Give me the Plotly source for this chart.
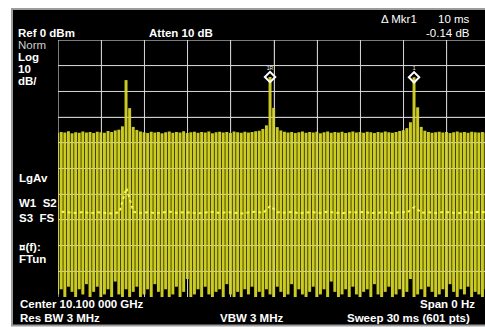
import plotly.graph_objects as go

W, H = 485, 327

# ---- data read from the screen -------------------------------------------
# trace 1 (sample trace), one bar per 0.25 ms bucket of the 30 ms sweep
sweep_ms = [round(-0.025 + 0.25 * k, 3) for k in range(121)]
top_db = [
    -36.2, -35.8, -36.0, -35.5, -36.3, -35.9, -36.1, -35.6, -36.0, -35.8,
    -36.2, -35.7, -35.9, -36.1, -35.4, -35.8, -35.2, -34.9, -33.6, -15.6,
    -26.5, -33.8, -35.0, -35.6, -35.9, -36.2, -35.7, -36.0, -35.8, -36.3,
    -35.9, -35.6, -36.1, -35.8, -36.0, -35.5, -36.2, -35.9, -35.7, -36.1,
    -35.8, -36.0, -35.6, -36.3, -35.9, -35.7, -36.0, -35.8, -36.2, -35.6,
    -35.9, -36.1, -35.7, -36.0, -35.8, -35.5, -35.3, -34.6, -33.2, -14.4,
    -26.4, -33.9, -35.2, -35.7, -36.0, -35.8, -36.2, -35.9, -35.6, -36.1,
    -35.8, -36.0, -35.7, -36.3, -35.9, -35.6, -36.1, -35.8, -36.0, -35.7,
    -36.2, -35.9, -35.6, -36.0, -35.8, -36.1, -35.7, -35.9, -36.2, -35.8,
    -36.0, -35.6, -35.9, -36.1, -35.8, -35.4, -35.1, -34.3, -32.0, -14.5,
    -26.2, -33.8, -35.3, -35.8, -36.1, -35.9, -35.7, -36.0, -35.8, -36.2,
    -35.9, -35.6, -36.0, -35.8, -36.1, -35.7, -35.9, -36.0, -35.8, -36.1,
    -35.9,
]
floor_db = [
    -99, -97, -100, -96, -98, -100, -97, -99, -95, -100,
    -98, -96, -100, -99, -97, -100, -94, -99, -100, -97,
    -100, -98, -96, -100, -99, -97, -100, -95, -98, -100,
    -97, -100, -99, -96, -100, -98, -93, -100, -99, -97,
    -100, -96, -99, -100, -98, -97, -100, -95, -99, -100,
    -98, -100, -97, -99, -96, -100, -98, -100, -97, -99,
    -100, -96, -98, -100, -99, -95, -100, -97, -99, -100,
    -98, -96, -100, -99, -97, -100, -94, -98, -100, -99,
    -97, -100, -96, -99, -100, -98, -97, -100, -95, -99,
    -100, -98, -96, -100, -99, -97, -100, -98, -93, -100,
    -99, -97, -100, -96, -98, -100, -99, -97, -100, -95,
    -98, -100, -97, -99, -96, -100, -98, -99, -100, -97,
    -99,
]
# trace 2 (log average), dotted
avg_ms = [round(0.25 + 0.5 * k, 2) for k in range(60)]
avg_db = [
    -66.8, -67.1, -67.3, -66.9, -67.4, -67.0, -67.2, -67.5, -67.1, -57.6,
    -66.9, -67.3, -67.0, -67.4, -67.1, -66.8, -67.3, -67.0, -67.2, -67.4,
    -67.1, -66.9, -67.3, -67.0, -67.2, -67.5, -67.1, -66.8, -67.3, -64.5,
    -67.0, -67.2, -66.9, -67.4, -67.1, -67.0, -67.3, -66.8, -67.2, -67.4,
    -67.0, -67.1, -66.9, -67.3, -67.2, -67.0, -67.4, -66.9, -67.1, -65.0,
    -67.2, -67.0, -67.3, -66.9, -67.1, -67.4, -67.0, -67.2, -66.8, -67.1,
]
# markers
mkr_ms = [14.725, 24.725]
mkr_db = [-14.4, -14.5]
mkr_labels = ["1R", "1"]

# ---- screen geometry (pixels) --------------------------------------------
GX0, GY0, GY1 = 58, 40, 297
PX_PER_MS = 14.4
x_max = (W - GX0) / PX_PER_MS

YEL = "#cbcb22"

fig = go.Figure()
fig.add_trace(go.Bar(
    x=sweep_ms,
    y=[t - f for t, f in zip(top_db, floor_db)],
    base=floor_db,
    width=0.205,
    marker=dict(color=YEL, line=dict(width=0)),
    hoverinfo="skip",
))
fig.add_trace(go.Scatter(
    x=avg_ms, y=avg_db, mode="lines",
    line=dict(color="#f6f650", width=2, dash="dot"),
    hoverinfo="skip",
))
fig.add_trace(go.Scatter(
    x=mkr_ms, y=mkr_db, mode="markers+text",
    text=mkr_labels, textposition="top center",
    textfont=dict(color="white", size=5, family="Liberation Sans"),
    marker=dict(symbol="diamond-open", size=8, color="white", line=dict(width=2, color="white")),
    hoverinfo="skip",
))

shapes = []
# white surround of the instrument screen (paper itself is black)
for x0, x1, y0, y1 in [(0, 11, 0, H), (0, W, 0, 8), (0, W, 326, H)]:
    shapes.append(dict(type="rect", xref="paper", yref="paper",
                       x0=x0 / W, x1=x1 / W, y0=1 - y1 / H, y1=1 - y0 / H,
                       fillcolor="white", line=dict(width=0), layer="below"))
# gray bezel lines (left, top, bottom)
for x0, x1, y0, y1 in [(12, 12, 9, 325.5), (11, W, 9, 9), (11, W, 325.5, 325.5)]:
    shapes.append(dict(type="line", xref="paper", yref="paper",
                       x0=x0 / W, x1=x1 / W, y0=1 - y0 / H, y1=1 - y1 / H,
                       line=dict(color="#9c9c9c", width=2), layer="below"))
# grid overlay on top of trace (faint)
for t in range(0, 30, 3):
    shapes.append(dict(type="line", xref="x", yref="y", x0=t, x1=t, y0=-100, y1=0,
                       line=dict(color="rgba(235,235,235,0.35)", width=1), layer="above"))
for d in range(-90, 1, 10):
    shapes.append(dict(type="line", xref="x", yref="y", x0=0, x1=x_max, y0=d, y1=d,
                       line=dict(color="rgba(235,235,235,0.35)", width=1), layer="above"))
# borders
shapes.append(dict(type="line", xref="x", yref="y", x0=0, x1=0, y0=-100, y1=0,
                   line=dict(color="#c4c4c4", width=1), layer="below"))
shapes.append(dict(type="line", xref="x", yref="y", x0=0, x1=x_max, y0=0, y1=0,
                   line=dict(color="#c4c4c4", width=1), layer="below"))

FONT = "Liberation Sans, Arial, sans-serif"
FS = 11.5
annotations = []


def label(text, px, py, anchor="left", color="white", bold=True, size=FS):
    annotations.append(dict(
        text=f"<b>{text}</b>" if bold else text,
        x=px / W, y=1 - py / H, xref="paper", yref="paper",
        xanchor=anchor, yanchor="middle", showarrow=False,
        font=dict(family=FONT, size=size, color=color),
    ))


label("Ref 0 dBm", 16, 33)
label("Atten 10 dB", 147, 33)
label("\u0394 Mkr1", 379, 19, bold=False)
label("10 ms", 472, 19, anchor="right", bold=False)
label("-0.14 dB", 472, 33, anchor="right", bold=False)
label("Norm", 16, 45, bold=False, color="#cfcfcf")
label("Log", 16, 57)
label("10", 16, 69)
label("dB/", 16, 81)
label("LgAv", 17, 178)
label("W1  S2", 17, 203)
label("S3  FS", 17, 218)
label("\u00a4(f):", 17, 247)
label("FTun", 17, 259)
label("Center 10.100 000 GHz", 18, 304)
label("Span 0 Hz", 477, 304, anchor="right")
label("Res BW 3 MHz", 18, 318)
label("VBW 3 MHz", 218, 318)
label("Sweep 30 ms (601 pts)", 472, 318, anchor="right")

fig.update_layout(
    width=W, height=H,
    margin=dict(l=0, r=0, t=0, b=0),
    paper_bgcolor="black",
    plot_bgcolor="black",
    showlegend=False,
    barmode="overlay",
    shapes=shapes,
    annotations=annotations,
    xaxis=dict(domain=[GX0 / W, 1], range=[0, x_max], dtick=3, tick0=0,
               showgrid=True, gridcolor="#c4c4c4", gridwidth=1,
               showticklabels=False, ticks="", zeroline=False, showline=False,
               fixedrange=True),
    yaxis=dict(domain=[1 - GY1 / H, 1 - GY0 / H], range=[-100, 0], dtick=10,
               showgrid=True, gridcolor="#c4c4c4", gridwidth=1,
               showticklabels=False, ticks="", zeroline=False, showline=False,
               fixedrange=True),
)

fig.write_html(
    "out.html",
    config={"displayModeBar": False},
    post_script="document.body.style.margin='0';document.body.style.padding='0';"
                "document.documentElement.style.margin='0';"
                "document.documentElement.style.overflow='hidden';"
                "document.body.style.background='black';"
                "document.documentElement.style.background='black';",
)
